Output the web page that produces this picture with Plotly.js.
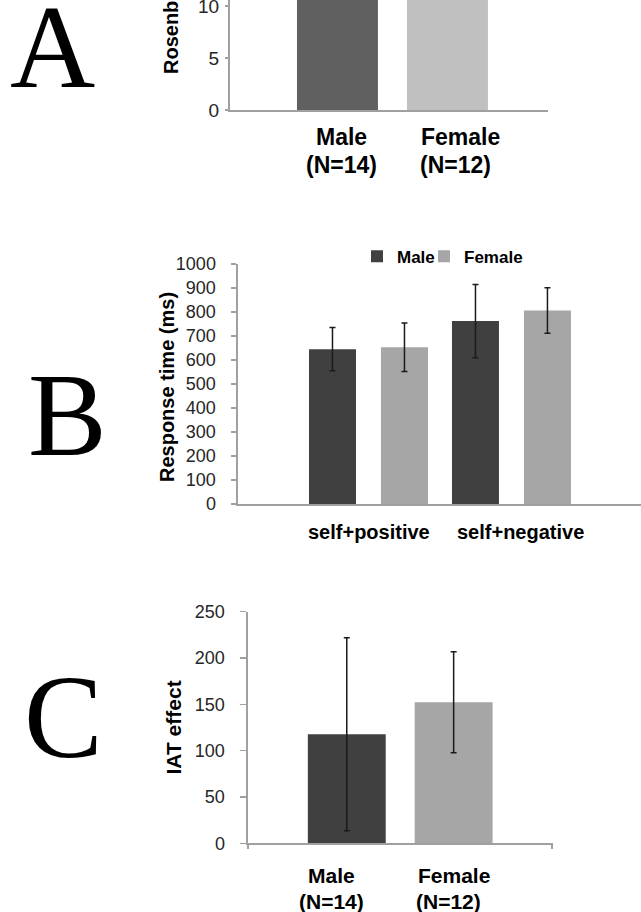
<!DOCTYPE html>
<html><head><meta charset="utf-8">
<script src="https://cdn.plot.ly/plotly-3.0.1.min.js"></script>
<style>html,body{margin:0;padding:0;background:#fff;}#chart{width:641px;height:912px;}</style>
</head><body><div id="chart"></div>
<script>
// ---------- data ----------
// Panel A (Rosenberg self-esteem, bars run past the top of the picture)
const aCategories = ["Male", "Female"];
const aNLabels = ["(N=14)", "(N=12)"];
const aValues = [29.5, 29.0];
const aTicks = [0, 5, 10];
// Panel B (response time, ms)
const bCategories = ["self+positive", "self+negative"];
const bSeries = ["Male", "Female"];
const bMale = [645, 762];
const bMaleErr = [90, 153];
const bFemale = [653, 806];
const bFemaleErr = [101, 95];
const bTicks = [0, 100, 200, 300, 400, 500, 600, 700, 800, 900, 1000];
// Panel C (IAT effect)
const cCategories = ["Male", "Female"];
const cNLabels = ["(N=14)", "(N=12)"];
const cValues = [117.7, 152.2];
const cErr = [104.2, 54.5];
const cTicks = [0, 50, 100, 150, 200, 250];
const panelLetters = ["A", "B", "C"];

// ---------- layout helpers ----------
const W = 641, H = 912;
const px = x => x / W;
const py = y => 1 - y / H;
const SANS = "Liberation Sans, Arial, sans-serif";
const SERIF = "Liberation Serif, Times New Roman, serif";
const AXC = "#a0a0a0";
const TICKC = "#262626";
const DARK = "#404040", LIGHT = "#a6a6a6";
const idx = arr => arr.map((_, i) => i);

const errStyle = {type: "data", color: "#1a1a1a", thickness: 1.5, width: 3};

const traces = [
  {type: "bar", x: idx(aCategories), y: aValues, xaxis: "x", yaxis: "y",
   width: 0.736, marker: {color: ["#606060", "#c0c0c0"]}, showlegend: false, hoverinfo: "skip"},
  {type: "bar", name: bSeries[0], x: idx(bCategories), y: bMale, xaxis: "x2", yaxis: "y2",
   offset: -0.416, width: 0.3287, marker: {color: DARK}, legend: "legend",
   error_y: Object.assign({array: bMaleErr}, errStyle), hoverinfo: "skip"},
  {type: "bar", name: bSeries[1], x: idx(bCategories), y: bFemale, xaxis: "x2", yaxis: "y2",
   offset: 0.0874, width: 0.3287, marker: {color: LIGHT}, legend: "legend2",
   error_y: Object.assign({array: bFemaleErr}, errStyle), hoverinfo: "skip"},
  {type: "bar", x: idx(cCategories), y: cValues, xaxis: "x3", yaxis: "y3",
   width: 0.729, marker: {color: [DARK, LIGHT]}, showlegend: false,
   error_y: Object.assign({array: cErr}, errStyle), hoverinfo: "skip"}
];

const baseX = {showline: true, linecolor: AXC, linewidth: 2, showgrid: false, zeroline: false,
  showticklabels: false, ticks: "", fixedrange: true, type: "linear"};
const baseY = {showline: true, linecolor: AXC, linewidth: 2, showgrid: false, zeroline: false,
  ticks: "outside", tickcolor: AXC, tickwidth: 1.5, tickmode: "array", fixedrange: true,
  ticklabeloverflow: "allow", tickfont: {family: SANS, size: 18, color: TICKC}};

const legendFont = {family: SANS, size: 17, color: "#000", weight: "bold"};
const legendBase = {orientation: "h", xanchor: "left", y: py(256.7), yanchor: "middle",
  font: legendFont, bgcolor: "rgba(0,0,0,0)", itemwidth: 30};

const xr3 = [-0.929, 1.925];
const layout = {
  width: W, height: H, margin: {l: 0, r: 0, t: 0, b: 0},
  paper_bgcolor: "#fff", plot_bgcolor: "#fff", barmode: "group",
  showlegend: true,
  legend: Object.assign({x: px(357)}, legendBase),
  legend2: Object.assign({x: px(424)}, legendBase),
  xaxis: Object.assign({}, baseX, {domain: [px(230), px(548)], range: [-0.977, 1.914], anchor: "y"}),
  yaxis: Object.assign({}, baseY, {domain: [py(110), 1], range: [0, 10.58], anchor: "x",
    tickvals: aTicks, ticklen: 3, ticklabelstandoff: 2, tickfont: {family: SANS, size: 19, color: TICKC}}),
  xaxis2: Object.assign({}, baseX, {domain: [px(237.5), 1], range: [-0.916, 1.906], anchor: "y2"}),
  yaxis2: Object.assign({}, baseY, {domain: [py(504), py(264)], range: [0, 1000], anchor: "x2",
    tickvals: bTicks, ticklen: 5, ticklabelstandoff: 11}),
  xaxis3: Object.assign({}, baseX, {domain: [px(247.5), px(552.5)], range: xr3, anchor: "y3",
    ticks: "outside", ticklen: 4, tickcolor: AXC, tickwidth: 1.5, tickmode: "array",
    tickvals: [xr3[0] + 0.004, xr3[1] - 0.004]}),
  yaxis3: Object.assign({}, baseY, {domain: [py(843.3), py(611.7)], range: [0, 250], anchor: "x3",
    tickvals: cTicks, ticklen: 6, ticklabelstandoff: 11}),
  annotations: []
};

const ann = layout.annotations;
// panel letters
const letterPos = [[52.5, 47], [67.5, 415], [63.5, 717.5]];
panelLetters.forEach((t, i) => ann.push({text: t, xref: "paper", yref: "paper",
  x: px(letterPos[i][0]), y: py(letterPos[i][1]), xanchor: "center", yanchor: "middle",
  showarrow: false, font: {family: SERIF, size: 118, color: "#000"}}));

// y-axis titles
const boldFont = s => ({family: SANS, size: s, color: "#000", weight: "bold"});
ann.push({text: "Rosenberg self-esteem", xref: "paper", yref: "paper", x: px(171), y: py(76),
  xanchor: "center", yanchor: "bottom", textangle: -90, showarrow: false, font: boldFont(20)});
ann.push({text: "Response time (ms)", xref: "paper", yref: "paper", x: px(166.5), y: py(387.5),
  xanchor: "center", yanchor: "middle", textangle: -90, showarrow: false, font: boldFont(20)});
ann.push({text: "IAT effect", xref: "paper", yref: "paper", x: px(172.5), y: py(728),
  xanchor: "center", yanchor: "middle", textangle: -90, showarrow: false, font: boldFont(21)});

// category labels
const aShift = [[4, 4], [13, 8]];
aCategories.forEach((c, i) => {
  ann.push({text: c, xref: "x", yref: "paper", x: i, xshift: aShift[i][0], y: py(137),
    yanchor: "middle", showarrow: false, font: boldFont(23)});
  ann.push({text: aNLabels[i], xref: "x", yref: "paper", x: i, xshift: aShift[i][1], y: py(165),
    yanchor: "middle", showarrow: false, font: boldFont(23)});
});
const bShift = [1, 9.5];
bCategories.forEach((c, i) => ann.push({text: c, xref: "x2", yref: "paper", x: i, xshift: bShift[i],
  y: py(532), yanchor: "middle", showarrow: false, font: boldFont(20)}));
const cShift = [[-15.7, -15.7], [0, -5]];
cCategories.forEach((c, i) => {
  ann.push({text: c, xref: "x3", yref: "paper", x: i, xshift: cShift[i][0], y: py(875),
    yanchor: "middle", showarrow: false, font: boldFont(21)});
  ann.push({text: cNLabels[i], xref: "x3", yref: "paper", x: i, xshift: cShift[i][1], y: py(901),
    yanchor: "middle", showarrow: false, font: boldFont(21)});
});

Plotly.newPlot("chart", traces, layout, {staticPlot: true, displayModeBar: false});
</script></body></html>
